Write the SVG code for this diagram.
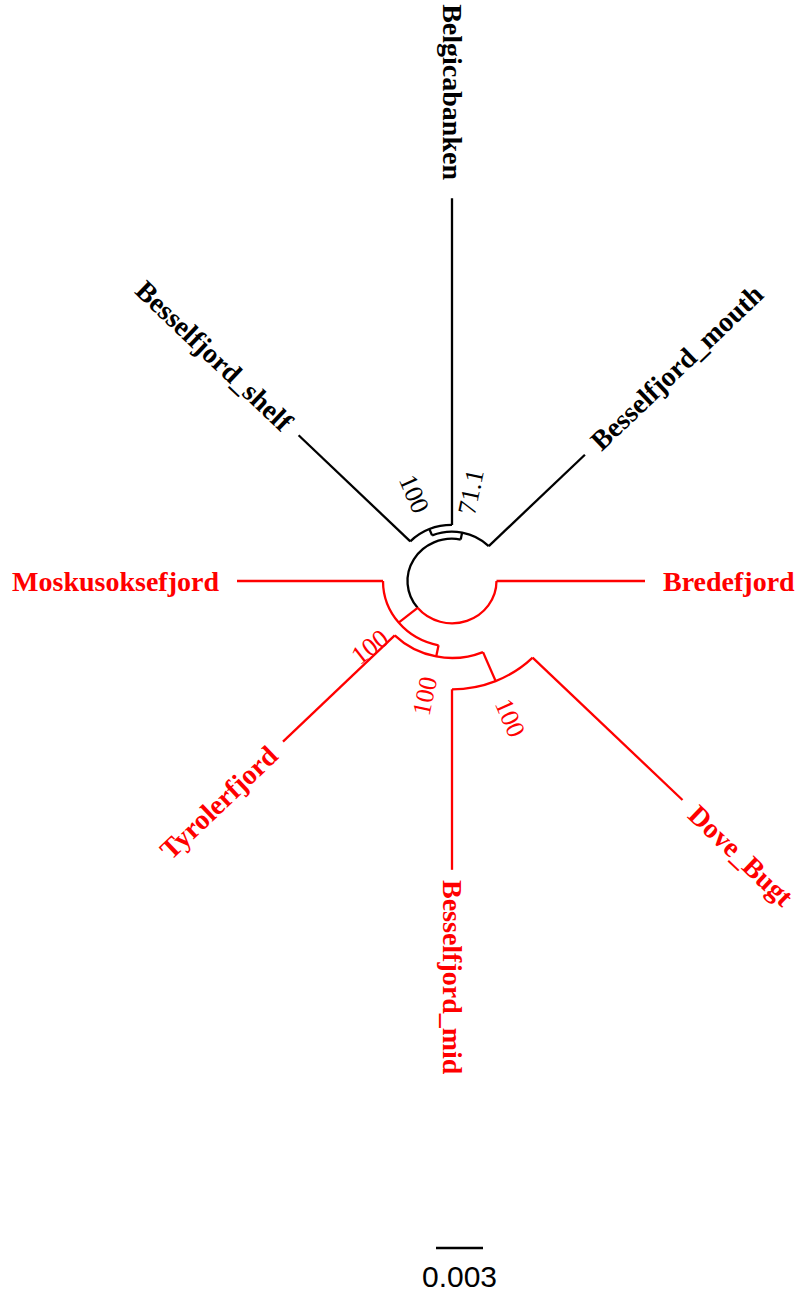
<svg xmlns="http://www.w3.org/2000/svg" width="798" height="1293" viewBox="0 0 798 1293">
<style>
.k{fill:none;stroke:#000;stroke-width:2.3;vector-effect:non-scaling-stroke}
.r{fill:none;stroke:#ff0000;stroke-width:2.3;vector-effect:non-scaling-stroke}
.tip{font-family:"Liberation Serif","Times New Roman",serif;font-weight:bold;font-size:28px;dominant-baseline:central}
.bs{font-family:"Liberation Serif","Times New Roman",serif;font-size:26px;text-anchor:middle;dominant-baseline:central}
.kt{fill:#000}
.rt{fill:#ff0000}
</style>
<rect width="798" height="1293" fill="#fff"/>
<g id="connectors" transform="translate(452,581) scale(1,0.95)">
  <path class="r" d="M44.5 0 A44.5 44.5 0 0 1 -34.40 28.23"/>
  <path class="k" d="M-34.40 28.23 A44.5 44.5 0 0 1 8.68 -43.65"/>
  <path class="r" d="M44.5 0 L193 0"/>
  <path class="r" d="M-34.40 28.23 L-53.34 43.77"/>
  <path class="r" d="M-13.46 67.67 A69 69 0 0 1 -69 0"/>
  <path class="r" d="M-69 0 L-215 0"/>
  <path class="r" d="M-13.46 67.67 L-15.80 79.44"/>
  <path class="r" d="M31.00 74.83 A81 81 0 0 1 -57.28 57.28"/>
  <path class="r" d="M-57.28 57.28 L-169.0 169.0"/>
  <path class="r" d="M31.00 74.83 L43.63 105.32"/>
  <path class="r" d="M80.61 80.61 A114 114 0 0 1 0 114"/>
  <path class="r" d="M0 114 L0 304"/>
  <path class="r" d="M80.61 80.61 L230.5 230.5"/>
  <path class="k" d="M8.68 -43.65 L10.14 -51.00"/>
  <path class="k" d="M-19.90 -48.04 A52 52 0 0 1 36.77 -36.77"/>
  <path class="k" d="M-19.90 -48.04 L-22.58 -54.51"/>
  <path class="k" d="M-41.72 -41.72 A59 59 0 0 1 0 -59"/>
  <path class="k" d="M-41.72 -41.72 L-153.4 -153.4"/>
  <path class="k" d="M0 -59 L0 -403"/>
  <path class="k" d="M36.77 -36.77 L132.9 -132.9"/>
</g>
<g id="Bredefjord"><text class="tip rt" x="663" y="581">Bredefjord</text></g>
<g id="Moskusoksefjord"><text class="tip rt" x="219" y="581" text-anchor="end">Moskusoksefjord</text></g>
<g id="Belgicabanken"><text class="tip kt" transform="translate(452,180) rotate(90)" text-anchor="end">Belgicabanken</text></g>
<g id="Besselfjord_mid"><text class="tip rt" transform="translate(452,880) rotate(90)">Besselfjord_mid</text></g>
<g id="Besselfjord_shelf"><text class="tip kt" transform="translate(288,426) rotate(43.53)" text-anchor="end">Besselfjord_shelf</text></g>
<g id="Besselfjord_mouth"><text class="tip kt" transform="translate(595,445) rotate(-43.53)">Besselfjord_mouth</text></g>
<g id="Dove_Bugt"><text class="tip rt" transform="translate(693,810) rotate(43.53)">Dove_Bugt</text></g>
<g id="Tyrolerfjord"><text class="tip rt" transform="translate(273,751) rotate(-43.53)" text-anchor="end">Tyrolerfjord</text></g>
<g id="support-labels">
  <text class="bs kt" transform="translate(414,494) rotate(66.4)">100</text>
  <text class="bs kt" transform="translate(471,492) rotate(-78.2)">71.1</text>
  <text class="bs rt" transform="translate(370,647) rotate(-38)">100</text>
  <text class="bs rt" transform="translate(425,696) rotate(-78.2)">100</text>
  <text class="bs rt" transform="translate(510,718) rotate(66.4)">100</text>
</g>
<g id="scale-bar">
  <line x1="436" y1="1248" x2="483" y2="1248" stroke="#000" stroke-width="2.6"/>
  <text x="459.5" y="1287" font-family="Liberation Sans, Arial, sans-serif" font-size="30" text-anchor="middle" fill="#000">0.003</text>
</g>
</svg>
